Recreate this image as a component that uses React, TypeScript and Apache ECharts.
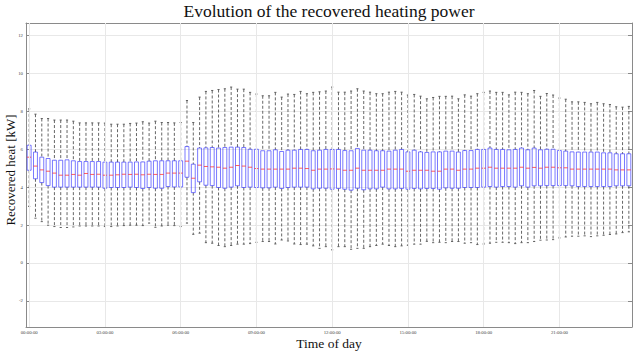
import React, { useEffect, useRef } from "react";
import * as echarts from "echarts";

const pad = (n: number) => (n < 10 ? "0" + n : "" + n);
const timeSlots: string[] = [];
for (let h = 0; h < 24; h++) for (let m = 0; m < 60; m += 15) timeSlots.push(`${pad(h)}:${pad(m)}:00`);

const tickLabels = ["00:00:00", "03:00:00", "06:00:00", "09:00:00", "12:00:00", "15:00:00", "18:00:00", "21:00:00"];

const whiskerHigh = [
  8.13, 7.85, 7.62, 7.62, 7.54, 7.54, 7.54, 7.48, 7.39, 7.39, 7.39, 7.39,
  7.38, 7.32, 7.32, 7.32, 7.36, 7.38, 7.45, 7.38, 7.48, 7.41, 7.41, 7.39,
  7.41, 8.57, 7.41, 8.75, 9.05, 9.10, 9.15, 9.19, 9.28, 9.17, 9.17, 9.00,
  8.91, 8.82, 8.82, 9.00, 8.75, 8.91, 8.89, 9.05, 8.93, 9.00, 9.03, 9.07,
  9.28, 9.01, 9.01, 9.07, 9.19, 9.07, 9.01, 8.93, 8.93, 9.01, 9.05, 9.01,
  8.86, 8.89, 8.80, 8.66, 8.73, 8.79, 8.79, 8.80, 8.66, 8.87, 8.80, 8.93,
  9.00, 9.07, 9.00, 9.00, 8.87, 9.01, 9.00, 8.93, 9.10, 8.79, 8.94, 8.86,
  8.70, 8.64, 8.50, 8.50, 8.47, 8.40, 8.47, 8.40, 8.36, 8.24, 8.22, 8.26,
];
const upperQuartile = [
  6.21, 5.85, 5.58, 5.51, 5.42, 5.42, 5.44, 5.39, 5.35, 5.35, 5.35, 5.35,
  5.32, 5.32, 5.32, 5.32, 5.32, 5.33, 5.33, 5.37, 5.39, 5.39, 5.39, 5.39,
  5.39, 6.14, 5.21, 6.06, 6.07, 6.09, 6.06, 6.09, 6.11, 6.11, 6.09, 6.00,
  6.00, 5.92, 5.92, 5.97, 5.88, 5.95, 5.95, 5.99, 5.99, 5.92, 5.95, 5.99,
  5.99, 5.99, 5.93, 5.92, 6.04, 5.95, 5.95, 5.92, 5.92, 5.90, 5.95, 5.99,
  5.86, 5.95, 5.86, 5.83, 5.86, 5.86, 5.90, 5.90, 5.85, 5.93, 5.93, 5.99,
  5.99, 6.06, 5.99, 5.99, 5.97, 5.99, 6.06, 5.97, 6.06, 5.97, 6.00, 6.00,
  5.93, 5.90, 5.86, 5.85, 5.85, 5.85, 5.85, 5.81, 5.81, 5.76, 5.76, 5.76,
];
const medianValues = [
  5.58, 5.11, 4.91, 4.84, 4.74, 4.63, 4.63, 4.67, 4.63, 4.72, 4.67, 4.68,
  4.63, 4.63, 4.65, 4.68, 4.67, 4.68, 4.65, 4.68, 4.67, 4.67, 4.74, 4.74,
  4.74, 5.37, 4.47, 5.16, 5.09, 5.07, 5.05, 5.00, 5.05, 5.14, 5.11, 5.05,
  4.98, 4.95, 4.95, 4.95, 4.95, 4.95, 5.00, 5.00, 4.98, 4.89, 4.95, 4.95,
  4.96, 4.95, 4.89, 4.89, 5.00, 4.89, 4.89, 4.89, 4.89, 4.95, 4.95, 4.95,
  4.84, 4.89, 4.89, 4.89, 4.84, 4.84, 4.95, 4.95, 4.89, 4.95, 4.95, 5.00,
  5.00, 5.05, 5.00, 5.00, 5.00, 5.00, 5.05, 5.00, 5.04, 5.00, 5.05, 5.05,
  5.02, 5.02, 4.95, 4.95, 4.95, 4.95, 4.95, 4.95, 4.95, 4.91, 4.91, 4.91,
];
const lowerQuartile = [
  4.89, 4.44, 4.24, 4.08, 4.00, 4.00, 4.00, 4.00, 4.00, 4.00, 4.00, 4.00,
  3.94, 3.98, 3.98, 3.98, 4.00, 3.98, 3.93, 3.98, 3.94, 3.94, 4.03, 4.01,
  4.01, 4.52, 3.71, 4.28, 4.10, 4.08, 3.98, 3.94, 4.00, 4.07, 3.98, 4.00,
  3.98, 3.96, 3.96, 4.00, 3.93, 3.98, 4.00, 4.00, 4.00, 3.91, 3.94, 3.94,
  3.89, 3.93, 3.89, 3.84, 3.94, 3.86, 3.91, 3.91, 4.00, 3.91, 3.91, 3.93,
  3.89, 3.93, 3.91, 3.93, 3.93, 3.89, 3.96, 3.94, 3.94, 3.98, 3.98, 3.98,
  4.00, 4.03, 4.00, 4.03, 4.03, 4.00, 4.07, 4.00, 4.07, 4.07, 4.08, 4.08,
  4.08, 4.08, 4.07, 4.03, 4.03, 4.03, 4.03, 4.03, 4.03, 4.07, 4.07, 4.07,
];
const whiskerLow = [
  2.98, 2.36, 2.18, 1.99, 1.92, 1.87, 1.87, 1.90, 1.95, 1.95, 1.95, 1.95,
  1.92, 1.92, 1.95, 1.97, 1.99, 1.99, 1.97, 2.10, 1.88, 1.95, 1.99, 1.97,
  1.92, 2.10, 1.51, 1.57, 1.07, 1.04, 0.92, 0.86, 0.92, 0.99, 0.99, 1.02,
  1.09, 1.13, 1.13, 1.00, 1.21, 1.16, 1.00, 0.97, 0.99, 0.90, 0.77, 0.86,
  0.69, 0.86, 0.86, 0.72, 0.77, 0.77, 0.86, 0.92, 0.99, 0.92, 0.86, 0.90,
  0.93, 0.99, 0.99, 1.14, 1.07, 1.09, 1.07, 1.13, 1.13, 1.04, 1.07, 0.97,
  1.00, 1.04, 1.09, 1.09, 1.07, 1.02, 1.07, 1.07, 1.13, 1.20, 1.21, 1.23,
  1.32, 1.37, 1.41, 1.41, 1.43, 1.39, 1.43, 1.46, 1.50, 1.53, 1.60, 1.64,
];

const SERIF = '"Liberation Serif", "Times New Roman", serif';

export default function App() {
  const ref = useRef<HTMLDivElement>(null);
  useEffect(() => {
    if (!ref.current) return;
    const chart = echarts.init(ref.current, undefined, { renderer: "svg" });
    const rows = timeSlots.map((_, i) => [
      i,
      whiskerLow[i],
      lowerQuartile[i],
      medianValues[i],
      upperQuartile[i],
      whiskerHigh[i],
    ]);
    const axisGray = "#8a8a8a";
    const gridGray = "#e8e8e8";
    const yBase = {
      type: "value" as const,
      min: -3.38,
      max: 12.66,
      splitNumber: 8,
      axisLine: { show: true, onZero: false, lineStyle: { color: axisGray, width: 1 } },
      axisTick: { show: true, inside: true, length: 4, lineStyle: { color: axisGray } },
    };
    const xBase = {
      type: "category" as const,
      data: timeSlots,
      boundaryGap: true,
      axisLine: { show: true, onZero: false, lineStyle: { color: axisGray, width: 1 } },
      axisTick: { show: true, inside: true, length: 4, interval: 11, alignWithLabel: true, lineStyle: { color: axisGray } },
    };
    chart.setOption({
      animation: false,
      grid: { left: 26, right: 1, top: 23, bottom: 27, containLabel: false },
      xAxis: [
        {
          ...xBase,
          position: "bottom",
          axisLabel: { show: true, interval: 11, fontSize: 4.8, color: "#444", margin: 3, fontFamily: SERIF },
          splitLine: { show: false },
        },
        {
          ...xBase,
          position: "top",
          axisLabel: { show: false },
          splitLine: { show: false },
        },
      ],
      yAxis: [
        {
          ...yBase,
          position: "left",
          axisLabel: { show: true, fontSize: 4.8, color: "#444", margin: 3, showMinLabel: false, showMaxLabel: false, fontFamily: SERIF },
          splitLine: { show: true, lineStyle: { color: gridGray, width: 1 } },
        },
        {
          ...yBase,
          position: "right",
          axisLabel: { show: false },
          splitLine: { show: false },
        },
      ],
      graphic: [
        {
          type: "text",
          x: 329,
          y: 11,
          style: { text: "Evolution of the recovered heating power", fontFamily: SERIF, fontSize: 17.5, fill: "#111", align: "center", verticalAlign: "middle" },
        },
        {
          type: "text",
          x: 329,
          y: 343,
          style: { text: "Time of day", fontFamily: SERIF, fontSize: 13.5, fill: "#111", align: "center", verticalAlign: "middle" },
        },
        {
          type: "text",
          x: 10.5,
          y: 170,
          rotation: Math.PI / 2,
          style: { text: "Recovered heat [kW]", fontFamily: SERIF, fontSize: 13, fill: "#111", align: "center", verticalAlign: "middle" },
        },
      ],
      series: [
        {
          type: "line",
          xAxisIndex: 0,
          yAxisIndex: 0,
          data: [],
          silent: true,
          z: 1,
          markLine: {
            silent: true,
            symbol: ["none", "none"],
            label: { show: false },
            lineStyle: { color: gridGray, width: 1, type: "solid" },
            data: tickLabels.map((t) => ({ xAxis: t })),
          },
        },
        {
          type: "custom",
          xAxisIndex: 0,
          yAxisIndex: 0,
          z: 3,
          data: rows,
          encode: { x: 0, y: [1, 2, 3, 4, 5] },
          renderItem: (params: any, api: any) => {
            const i = api.value(0);
            const lo = api.coord([i, api.value(1)]);
            const q1 = api.coord([i, api.value(2)]);
            const md = api.coord([i, api.value(3)]);
            const q3 = api.coord([i, api.value(4)]);
            const hi = api.coord([i, api.value(5)]);
            const band = api.size([1, 0])[0];
            const half = band * 0.31;
            const cap = band * 0.17;
            const x = lo[0];
            const dash = { stroke: "#555", lineWidth: 0.9, lineDash: [3, 2] };
            const solid = { stroke: "#555", lineWidth: 0.9 };
            return {
              type: "group",
              children: [
                { type: "line", shape: { x1: x, y1: hi[1], x2: x, y2: q3[1] }, style: dash },
                { type: "line", shape: { x1: x, y1: q1[1], x2: x, y2: lo[1] }, style: dash },
                { type: "line", shape: { x1: x - cap, y1: hi[1], x2: x + cap, y2: hi[1] }, style: solid },
                { type: "line", shape: { x1: x - cap, y1: lo[1], x2: x + cap, y2: lo[1] }, style: solid },
                {
                  type: "rect",
                  shape: { x: x - half, y: q3[1], width: 2 * half, height: q1[1] - q3[1] },
                  style: { fill: "none", stroke: "rgba(50,50,255,0.65)", lineWidth: 1 },
                },
                { type: "line", shape: { x1: x - half, y1: md[1], x2: x + half, y2: md[1] }, style: { stroke: "rgba(255,40,40,0.75)", lineWidth: 1 } },
              ],
            };
          },
        },
      ],
    });
    return () => chart.dispose();
  }, []);
  return <div ref={ref} style={{ width: 633, height: 354, position: "absolute", left: 0, top: 0 }} />;
}
